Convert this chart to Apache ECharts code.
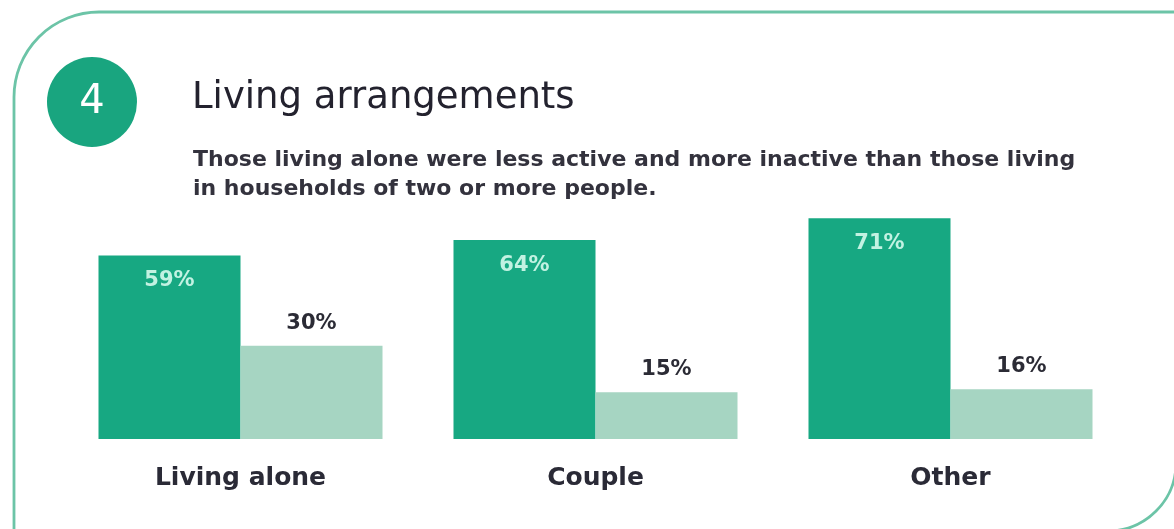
<!DOCTYPE html>
<html>
<head>
<meta charset="utf-8">
<script src="https://cdn.jsdelivr.net/npm/echarts@6/dist/echarts.min.js"></script>
<style>
    html, body { margin: 0; padding: 0; background: #ffffff; }
    #chart { width: 1174px; height: 529px; }
</style>
</head>
<body>
<div id="chart"></div>
<script>
// data
var categories = ['Living alone', 'Couple', 'Other'];
var activeValues = [59, 64, 71];
var inactiveValues = [30, 15, 16];

var FONT = '"DejaVu Sans", sans-serif';
var darkGreen = '#17a882';
var lightGreen = '#a6d5c2';

var myChart = echarts.init(document.getElementById('chart'));

var option = {
    backgroundColor: '#ffffff',
    animation: false,
    title: [{
        text: 'Living arrangements',
        left: 187,
        top: 75,
        textStyle: {
            fontFamily: FONT,
            fontSize: 37,
            fontWeight: 'normal',
            color: '#23222e'
        }
    }, {
        text: 'Those living alone were less active and more inactive than those living\nin households of two or more people.',
        left: 188,
        top: 141,
        textStyle: {
            fontFamily: FONT,
            fontSize: 22,
            fontWeight: 'bold',
            lineHeight: 29,
            color: '#33323d'
        }
    }],
    graphic: [{
        type: 'rect',
        shape: { x: 14, y: 12, width: 1162, height: 519, r: [85, 0, 68, 0] },
        style: { fill: 'none', stroke: '#6cc4a7', lineWidth: 2.8 },
        z: -1
    }, {
        type: 'circle',
        shape: { cx: 92, cy: 102, r: 45 },
        style: { fill: '#19a57f' }
    }, {
        type: 'text',
        x: 92,
        y: 103,
        style: {
            text: '4',
            fill: '#ffffff',
            font: '400 40px "DejaVu Sans", sans-serif',
            align: 'center',
            verticalAlign: 'middle'
        }
    }],
    grid: {
        left: 63,
        right: 46,
        top: 128,
        bottom: 90
    },
    xAxis: {
        type: 'category',
        data: categories,
        axisLine: { show: false },
        axisTick: { show: false },
        axisLabel: {
            margin: 24,
            fontFamily: FONT,
            fontSize: 25,
            fontWeight: 'bold',
            lineHeight: 30,
            color: '#2a2a36'
        }
    },
    yAxis: {
        type: 'value',
        min: 0,
        max: 100,
        show: false,
        splitLine: { show: false }
    },
    series: [{
        name: 'Active',
        type: 'bar',
        data: activeValues,
        barWidth: 142,
        barGap: '0%',
        itemStyle: { color: darkGreen },
        label: {
            show: true,
            position: 'insideTop',
            distance: 15,
            formatter: '{c}%',
            fontFamily: FONT,
            fontSize: 21,
            fontWeight: 'bold',
            color: '#c2f2e2'
        }
    }, {
        name: 'Inactive',
        type: 'bar',
        data: inactiveValues,
        barWidth: 142,
        itemStyle: { color: lightGreen },
        label: {
            show: true,
            position: 'top',
            distance: 12,
            formatter: '{c}%',
            fontFamily: FONT,
            fontSize: 21,
            fontWeight: 'bold',
            color: '#2b2b35'
        }
    }]
};

myChart.setOption(option);
</script>
</body>
</html>
